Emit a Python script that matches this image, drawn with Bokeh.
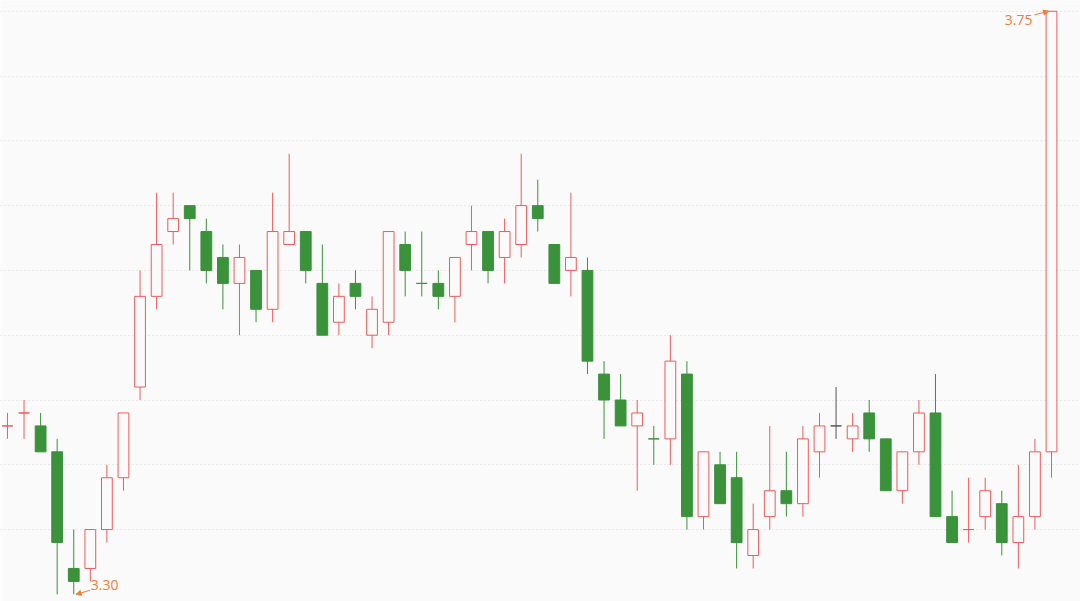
from bokeh.plotting import figure
from bokeh.models import ColumnDataSource, Range1d, FixedTicker, Arrow, NormalHead
from bokeh.embed import file_html
from bokeh.resources import INLINE
from bokeh.core.properties import value

# ---- data ----
opens = [3.43, 3.44, 3.43, 3.41, 3.32, 3.32, 3.35, 3.39, 3.46, 3.53,
         3.58, 3.60, 3.58, 3.56, 3.54, 3.55, 3.52, 3.57, 3.58, 3.54,
         3.51, 3.54, 3.50, 3.51, 3.57, 3.54, 3.54, 3.53, 3.57, 3.58,
         3.56, 3.57, 3.60, 3.57, 3.55, 3.55, 3.47, 3.45, 3.43, 3.42,
         3.42, 3.47, 3.36, 3.40, 3.39, 3.33, 3.36, 3.38, 3.37, 3.41,
         3.43, 3.42, 3.44, 3.42, 3.38, 3.41, 3.44, 3.36, 3.35, 3.36,
         3.37, 3.34, 3.36, 3.41]
highs = [3.44, 3.45, 3.44, 3.42, 3.35, 3.35, 3.40, 3.44, 3.55, 3.61,
         3.61, 3.60, 3.59, 3.57, 3.57, 3.55, 3.61, 3.64, 3.58, 3.57,
         3.54, 3.55, 3.53, 3.58, 3.58, 3.58, 3.55, 3.56, 3.60, 3.58,
         3.59, 3.64, 3.62, 3.57, 3.61, 3.56, 3.48, 3.47, 3.45, 3.43,
         3.50, 3.48, 3.41, 3.41, 3.41, 3.37, 3.43, 3.41, 3.43, 3.44,
         3.46, 3.44, 3.45, 3.42, 3.41, 3.45, 3.47, 3.38, 3.39, 3.39,
         3.38, 3.40, 3.42, 3.75]
lows = [3.42, 3.42, 3.41, 3.30, 3.30, 3.31, 3.34, 3.38, 3.45, 3.52,
        3.57, 3.55, 3.54, 3.52, 3.50, 3.51, 3.51, 3.57, 3.54, 3.50,
        3.50, 3.52, 3.49, 3.50, 3.53, 3.53, 3.52, 3.51, 3.55, 3.54,
        3.54, 3.56, 3.58, 3.54, 3.53, 3.47, 3.42, 3.43, 3.38, 3.40,
        3.40, 3.35, 3.35, 3.37, 3.32, 3.32, 3.35, 3.36, 3.36, 3.39,
        3.42, 3.41, 3.41, 3.38, 3.37, 3.40, 3.36, 3.34, 3.34, 3.35,
        3.33, 3.32, 3.35, 3.39]
closes = [3.43, 3.44, 3.41, 3.34, 3.31, 3.35, 3.39, 3.44, 3.53, 3.57,
          3.59, 3.59, 3.55, 3.54, 3.56, 3.52, 3.58, 3.58, 3.55, 3.50,
          3.53, 3.53, 3.52, 3.58, 3.55, 3.54, 3.53, 3.56, 3.58, 3.55,
          3.58, 3.60, 3.59, 3.54, 3.56, 3.48, 3.45, 3.43, 3.44, 3.42,
          3.48, 3.36, 3.41, 3.37, 3.34, 3.35, 3.38, 3.37, 3.42, 3.43,
          3.43, 3.43, 3.42, 3.38, 3.41, 3.44, 3.36, 3.34, 3.35, 3.38,
          3.34, 3.36, 3.41, 3.75]
grid_levels = [3.35, 3.40, 3.45, 3.50, 3.55, 3.60, 3.65, 3.70, 3.75]

# ---- styles ----
BG = "#fafafa"
UP = "#f05a5a"
DOWN = "#3a923a"
FLAT = "#555555"
LABEL = "#f47b3c"

n = len(opens)
xs = list(range(n))
line_c, fill_c = [], []
for i in range(n):
    o, c = opens[i], closes[i]
    if c > o:
        d = 1
    elif c < o:
        d = -1
    else:
        prev = closes[i - 1] if i > 0 else o - 1
        d = 1 if c > prev else (-1 if c < prev else 0)
    if d > 0:
        line_c.append(UP); fill_c.append(BG)
    elif d < 0:
        line_c.append(DOWN); fill_c.append(DOWN if c != o else BG)
    else:
        line_c.append(FLAT); fill_c.append(BG)

src = ColumnDataSource(dict(
    x=xs, open=opens, high=highs, low=lows, close=closes,
    top=[max(o, c) for o, c in zip(opens, closes)],
    bottom=[min(o, c) for o, c in zip(opens, closes)],
    lc=line_c, fc=fill_c,
))

p = figure(width=1080, height=601, output_backend="svg", toolbar_location=None,
           x_range=Range1d(-0.42, n + 0.75), y_range=Range1d(3.2945, 3.7583),
           background_fill_color=BG, border_fill_color=BG,
           min_border=0, outline_line_color=None)
p.xaxis.visible = False
p.yaxis.visible = False
p.xgrid.visible = False
p.ygrid.ticker = FixedTicker(ticks=grid_levels)
p.ygrid.grid_line_color = "#d9d9d9"
p.ygrid.grid_line_dash = "1 3"
p.ygrid.grid_line_width = 1

p.segment(x0="x", y0="high", x1="x", y1="low", source=src, line_color="lc", line_width=1)
p.vbar(x="x", width=0.65, top="top", bottom="bottom", source=src,
       fill_color="fc", line_color="lc", line_width=1)

# ---- min / max markers ----
lo = min(lows)
lo_i = max(i for i in range(n) if lows[i] == lo)
hi = max(highs)
hi_i = max(i for i in range(n) if highs[i] == hi)

p.text(x=[lo_i], y=[lo], text=[f"{lo:.2f}"], x_offset=17, y_offset=-9,
       text_align="left", text_baseline="middle", text_color=LABEL,
       text_font=value("Open Sans"), text_font_size="14px")
p.text(x=[hi_i], y=[hi], text=[f"{hi:.2f}"], x_offset=-19, y_offset=9,
       text_align="right", text_baseline="middle", text_color=LABEL,
       text_font=value("Open Sans"), text_font_size="14px")

p.add_layout(Arrow(x_start=lo_i + 0.97, y_start=lo + 0.0031, x_end=lo_i + 0.14, y_end=lo,
                   line_color=LABEL, line_width=1,
                   end=NormalHead(size=5, fill_color=LABEL, line_color=LABEL)))
p.add_layout(Arrow(x_start=hi_i - 1.03, y_start=hi - 0.0028, x_end=hi_i - 0.18, y_end=hi,
                   line_color=LABEL, line_width=1,
                   end=NormalHead(size=5, fill_color=LABEL, line_color=LABEL)))

open("out.html", "w").write(file_html(p, INLINE))
